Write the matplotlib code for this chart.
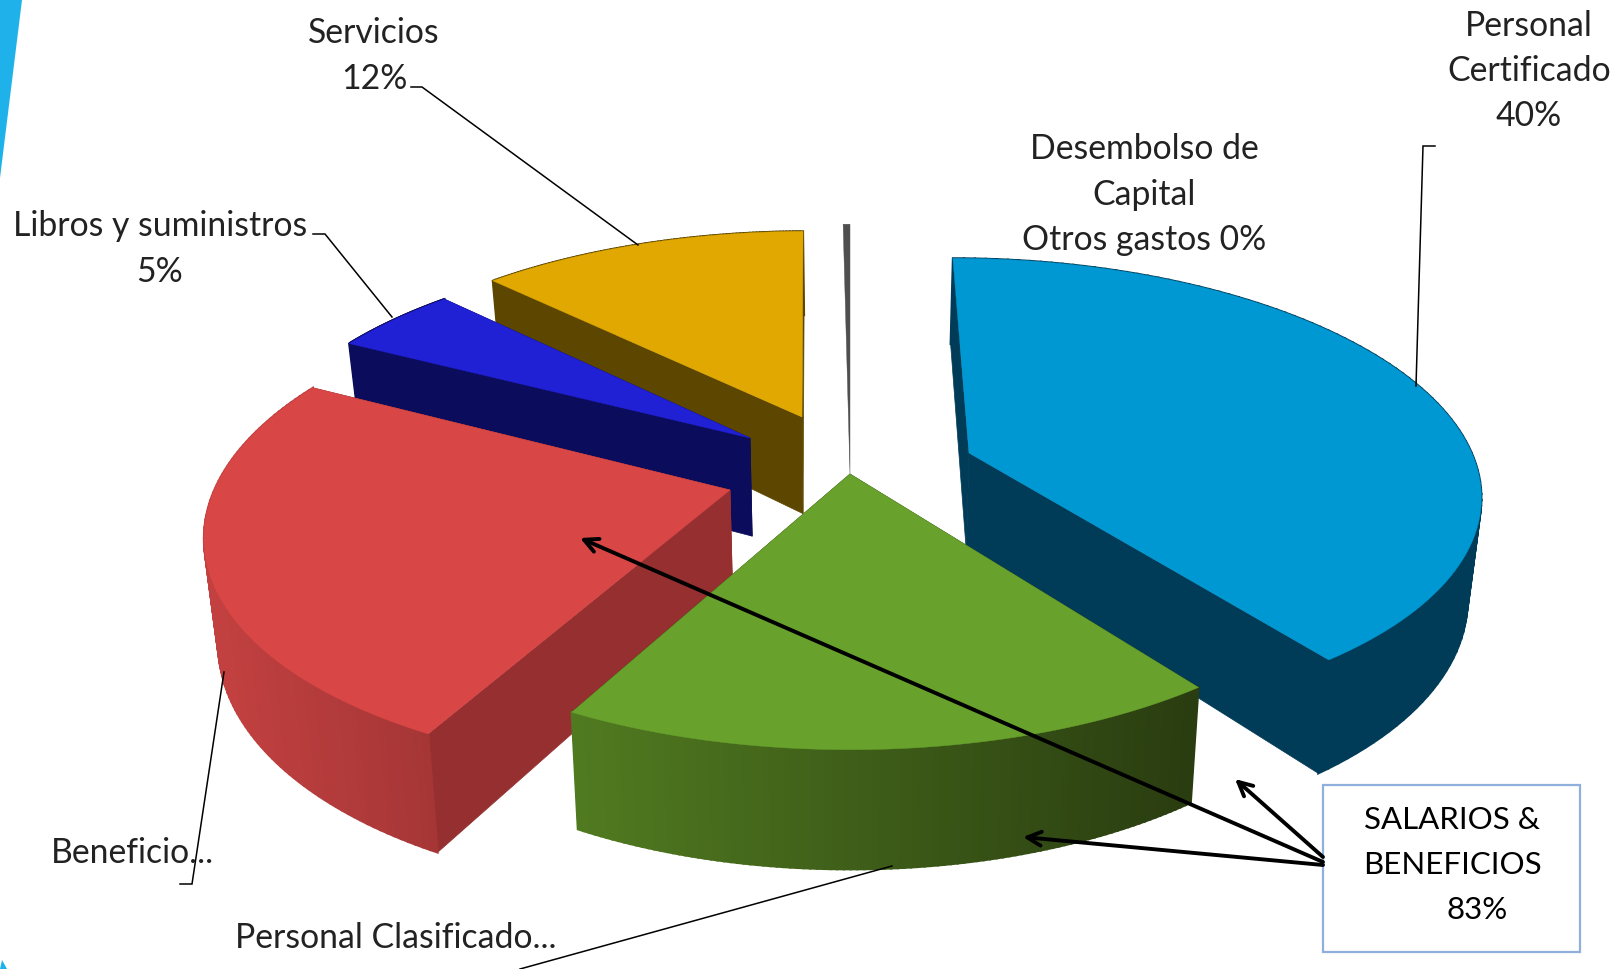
import numpy as np
import matplotlib
matplotlib.use("Agg")
import matplotlib.pyplot as plt
from matplotlib.colors import to_rgb
from matplotlib.patches import Polygon, Rectangle

categories = ["Personal Certificado", "Personal Clasificado", "Beneficios",
              "Libros y suministros", "Servicios", "Otros gastos"]
values = [40, 18, 25, 4.8, 12.4, 0.2]
total_label = ["SALARIOS &", "BENEFICIOS", "83%"]

top_colors = ["#0098d2", "#68a22c", "#d84646", "#2020d5", "#e0a800", "#4f4f4f"]
cut_colors = ["#003b57", "#2c3f11", "#962f30", "#0c0c5c", "#5c4600", "#333333"]
wall_left = ["#003b57", "#507a20", "#c24040", "#0c0c5c", "#5c4600", "#333333"]
wall_right = ["#003b57", "#2a3d10", "#a53636", "#0c0c5c", "#5c4600", "#333333"]

# screen position of each slice tip, and radius factor
apex = [(969, 453), (850, 474), (730, 490), (750, 438), (802, 417), (850, 474)]
radius = [1.0, 1.0, 1.0, 0.99, 1.0, 1.3]
draw_order = [4, 5, 3, 2, 0, 1]

Cx, Cy = 850, 465
a, b, p = 507, 229, 0.158
depth = 100
shrink = 0.978


def to_screen(X, Y, low=False):
    w = 1 + p * Y
    sx = a * X / w
    sy = Cy - b * Y / w
    if low:
        sx = sx * shrink
        sy = sy + depth / w
    return np.column_stack([Cx + sx, sy])


def to_plane(sx, sy):
    v = (Cy - sy) / b
    Y = v / (1 - p * v)
    X = (sx - Cx) / a * (1 + p * Y)
    return X, Y


fig = plt.figure(figsize=(16.16, 9.69), dpi=100)
ax = fig.add_axes([0, 0, 1, 1])
ax.set_xlim(0, 1616)
ax.set_ylim(969, 0)
ax.axis("off")

# slide decoration
ax.add_patch(Polygon([(0, 0), (22, 0), (0, 178)], color="#1fb2ea", lw=0))
ax.add_patch(Polygon([(0, 969), (2, 960), (7, 969)], color="#1fb2ea", lw=0))

edges = np.concatenate([[0], np.cumsum(values)]) / np.sum(values) * 2 * np.pi

for i in draw_order:
    X0, Y0 = to_plane(*apex[i])
    th = np.linspace(edges[i], edges[i + 1], 100)
    X = X0 + radius[i] * np.sin(th)
    Y = Y0 + radius[i] * np.cos(th)
    up = to_screen(X, Y)
    lo = to_screen(X, Y, low=True)
    c_up = to_screen(np.array([X0]), np.array([Y0]))
    c_lo = to_screen(np.array([X0]), np.array([Y0]), low=True)

    # the 0% sliver shows no sides
    if categories[i] != "Otros gastos":
        # cut faces
        for k in (0, -1):
            ax.add_patch(Polygon([c_up[0], up[k], lo[k], c_lo[0]], color=cut_colors[i], lw=0.5))

        # outer wall, shaded from left to right
        x_min, x_max = lo[:, 0].min(), lo[:, 0].max()
        left, right = np.array(to_rgb(wall_left[i])), np.array(to_rgb(wall_right[i]))
        for j in range(len(th) - 1):
            t = (up[j, 0] - x_min) / max(x_max - x_min, 1)
            t = min(max(t, 0), 1)
            col = left + (right - left) * t
            ax.add_patch(Polygon([up[j], up[j + 1], lo[j + 1], lo[j]], color=col, lw=1.5))

    ax.add_patch(Polygon(np.vstack([c_up, up]), color=top_colors[i], lw=0.3))

# leader lines
leaders = [
    [(411, 87), (422, 87), (638, 245)],
    [(313, 234), (325, 234), (392, 317)],
    [(180, 884), (192, 884), (224, 672)],
    [(520, 969), (892, 866)],
    [(1435, 146), (1423, 146), (1416, 386)],
]
for pts in leaders:
    pts = np.array(pts)
    ax.plot(pts[:, 0], pts[:, 1], color="black", lw=1.1, solid_joinstyle="miter")

font = {"family": "Lato", "color": "#222222", "fontsize": 24.3}
labels = [
    (374, 33, "Servicios", "center"), (374, 79, "12%", "center"),
    (160, 226, "Libros y suministros", "center"), (160, 272, "5%", "center"),
    (1529, 26, "Personal", "center"), (1529, 71, "Certificado", "center"), (1529, 116, "40%", "center"),
    (1144, 149, "Desembolso de", "center"), (1144, 195, "Capital", "center"),
    (1144, 240, "Otros gastos 0%", "center"),
    (51, 853, "Beneficio...", "left"), (235, 938, "Personal Clasificado...", "left"),
]
for x, y, s, ha in labels:
    ax.text(x, y, s, ha=ha, va="center", **font)

# callout box
ax.add_patch(Rectangle((1323, 785), 257, 167, fc="white", ec="#8fb0dc", lw=1.6))
box_font = {"family": "Lato", "color": "black", "fontsize": 22.5}
ax.text(1452, 820, total_label[0], ha="center", va="center", **box_font)
ax.text(1452, 865, total_label[1], ha="center", va="center", **box_font)
ax.text(1477, 910, total_label[2], ha="center", va="center", **box_font)

for start, tip in [((1323, 857), (1235, 779)), ((1323, 862), (580, 538)), ((1323, 865), (1023, 837))]:
    ax.annotate("", xy=tip, xytext=start,
                arrowprops=dict(arrowstyle="->,head_length=1.0,head_width=0.5", color="black",
                                lw=2.8, shrinkA=0, shrinkB=0))

fig.savefig("out.png", dpi=100)
